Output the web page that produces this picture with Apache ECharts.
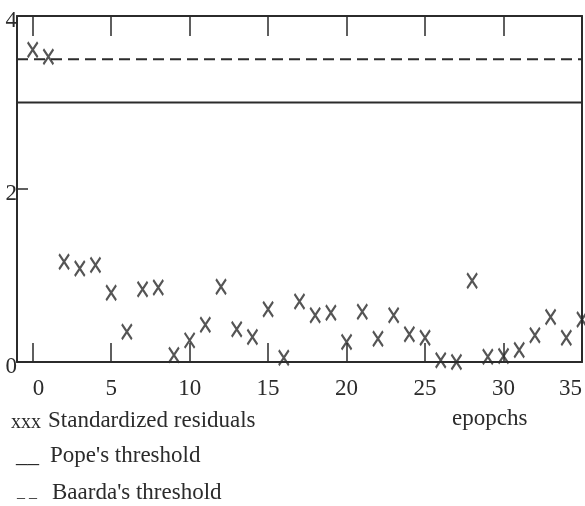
<!DOCTYPE html>
<html>
<head>
<meta charset="utf-8">
<title>Standardized residuals</title>
<script src="https://cdn.jsdelivr.net/npm/echarts@6/dist/echarts.min.js"></script>
<style>
  html, body { margin: 0; padding: 0; background: #fff; }
  #myChart { width: 585px; height: 506px; }
</style>
</head>
<body>
<div id="myChart"></div>
<script>
// epochs (x) and the standardized residual of each epoch (y)
var epochs = [0, 1, 2, 3, 4, 5, 6, 7, 8, 9, 10, 11, 12, 13, 14, 15, 16, 17,
  18, 19, 20, 21, 22, 23, 24, 25, 26, 27, 28, 29, 30, 31, 32, 33, 34, 35];
var residuals = [3.61, 3.53, 1.16, 1.08, 1.12, 0.80, 0.35, 0.84, 0.86, 0.08,
  0.25, 0.43, 0.87, 0.38, 0.29, 0.61, 0.05, 0.70, 0.54, 0.57, 0.23, 0.58,
  0.27, 0.54, 0.32, 0.28, 0.02, 0.00, 0.94, 0.06, 0.07, 0.14, 0.31, 0.52,
  0.28, 0.49];

// thresholds
var popeThreshold = 3.0;
var baardaThreshold = 3.5;

// axis range and ticks
var xRange = [-1, 35];
var xTicks = [0, 5, 10, 15, 20, 25, 30, 35];
var yTicks = [0, 2, 4];

var ink = '#2b2b2b';
var serif = "'Liberation Serif', 'Times New Roman', serif";

var myChart = echarts.init(document.getElementById('myChart'));

var option = {
  backgroundColor: '#fff',
  animation: false,
  grid: { left: 17, right: 3, top: 16, bottom: 144 },
  xAxis: [
    {
      type: 'value',
      min: xRange[0],
      max: xRange[1],
      axisLine: { show: true, onZero: false, lineStyle: { color: ink, width: 2 } },
      axisTick: { show: true, inside: true, length: 19, customValues: xTicks, lineStyle: { color: ink, width: 1.5 } },
      axisLabel: {
        customValues: xTicks,
        margin: 15,
        color: ink,
        fontFamily: serif,
        fontSize: 23,
        alignMinLabel: 'left',
        alignMaxLabel: 'right'
      },
      splitLine: { show: false }
    },
    {
      // top frame line with the same ticks
      type: 'value',
      position: 'top',
      min: xRange[0],
      max: xRange[1],
      axisLine: { show: true, onZero: false, lineStyle: { color: ink, width: 2 } },
      axisTick: { show: true, inside: true, length: 20, customValues: xTicks, lineStyle: { color: ink, width: 1.5 } },
      axisLabel: { show: false },
      splitLine: { show: false }
    }
  ],
  yAxis: [
    {
      type: 'value',
      min: yTicks[0],
      max: yTicks[yTicks.length - 1],
      interval: 2,
      axisLine: { show: true, onZero: false, lineStyle: { color: ink, width: 2 } },
      axisTick: { show: true, inside: true, length: 11, lineStyle: { color: ink, width: 1.5 } },
      axisLabel: {
        margin: 0,
        formatter: '{v|{value}}',
        rich: {
          // push the digits a little below the tick, as in the scan
          v: { padding: [9, 0, 0, 0], color: ink, fontFamily: serif, fontSize: 23 }
        }
      },
      splitLine: { show: false }
    },
    {
      // right frame line
      type: 'value',
      position: 'right',
      min: yTicks[0],
      max: yTicks[yTicks.length - 1],
      axisLine: { show: true, onZero: false, lineStyle: { color: ink, width: 2 } },
      axisTick: { show: false },
      axisLabel: { show: false },
      splitLine: { show: false }
    }
  ],
  series: [
    {
      name: "Pope's threshold",
      type: 'line',
      data: [[xRange[0], popeThreshold], [xRange[1], popeThreshold]],
      symbol: 'none',
      lineStyle: { color: ink, width: 2, type: 'solid' }
    },
    {
      name: "Baarda's threshold",
      type: 'line',
      data: [[xRange[0], baardaThreshold], [xRange[1], baardaThreshold]],
      symbol: 'none',
      lineStyle: { color: ink, width: 2, type: [11, 6] }
    },
    {
      name: 'Standardized residuals',
      type: 'scatter',
      data: epochs.map(function (e, i) { return [e, residuals[i]]; }),
      symbol: 'path://M0,0 L8,13 M8,0 L0,13',
      symbolSize: [10, 15],
      itemStyle: { color: 'rgba(0,0,0,0)', borderColor: ink, borderWidth: 2.3 },
      z: 5
    }
  ],
  // legend written as text like the original
  graphic: [
    { type: 'text', left: 11, top: 413, style: { text: 'xxx', font: '20px ' + serif, fill: ink } },
    { type: 'text', left: 48, top: 409, style: { text: 'Standardized residuals', font: '23px ' + serif, fill: ink } },
    { type: 'text', left: 16, top: 444, style: { text: '__', font: '23px ' + serif, fill: ink } },
    { type: 'text', left: 50, top: 444, style: { text: "Pope's threshold", font: '23px ' + serif, fill: ink } },
    { type: 'text', left: 17, top: 485, style: { text: '_ _', font: '16px ' + serif, fill: ink } },
    { type: 'text', left: 52, top: 481, style: { text: "Baarda's threshold", font: '23px ' + serif, fill: ink } },
    { type: 'text', left: 452, top: 407, style: { text: 'epopchs', font: '23px ' + serif, fill: ink } }
  ]
};

myChart.setOption(option);
</script>
</body>
</html>
